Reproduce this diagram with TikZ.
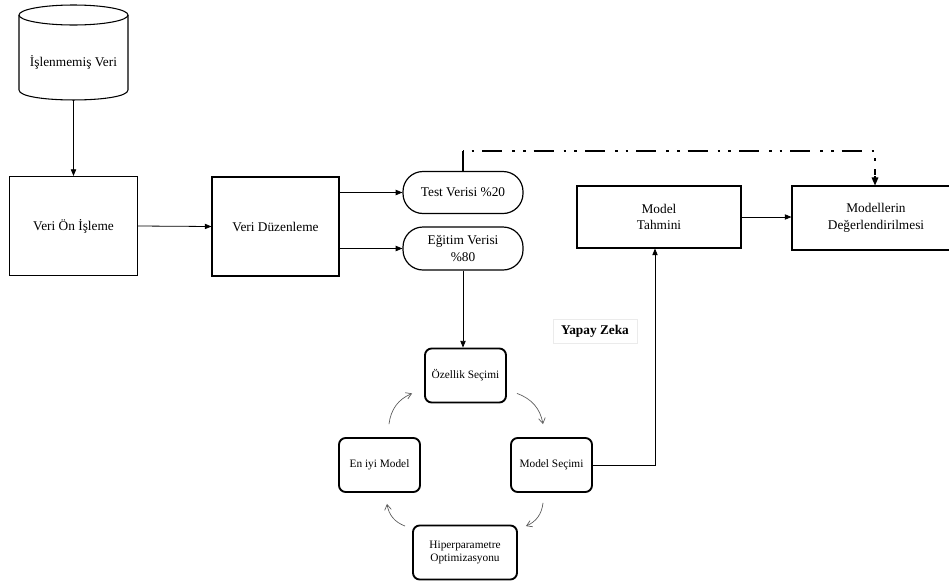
\documentclass[tikz,border=0pt]{standalone}
\usepackage{fontspec}
\setmainfont{Liberation Serif}
\usetikzlibrary{arrows.meta,calc}
\tikzset{
  big/.style={font=\fontsize{10}{12.5}\selectfont, align=center},
  small/.style={font=\fontsize{8.5}{9.5}\selectfont, align=center},
  mainbox/.style={draw, line width=0.8pt, big, inner sep=0pt},
  pillbox/.style={draw, line width=0.9pt, rounded corners=15pt, big, inner sep=0pt, minimum width=90pt},
  cyclebox/.style={draw, line width=1.4pt, rounded corners=5pt, small, inner sep=0pt, minimum width=60.75pt, minimum height=40.5pt},
  conn/.style={line width=0.6pt, -{Triangle[length=5pt,width=4pt]}},
  cyc/.style={black!65, line width=0.5pt, -{Straight Barb[length=4pt,width=5pt]}, bend left=30},
  dashdotdot/.style={line width=2pt, dash pattern=on 15pt off 7.5pt on 2pt off 6pt on 2pt off 6pt, dash phase=24pt}
}
\begin{document}
\begin{tikzpicture}[x=0.75pt,y=-0.75pt]
\clip (0,0) rectangle (949,582);
\fill[white] (0,0) rectangle (949,582);

% cylinder
\node[big, minimum width=81.75pt, minimum height=56.25pt, inner sep=0pt] (raw) at (73.5,62.5) {İşlenmemiş Veri};
\draw[line width=0.8pt] (19,15) -- (19,90) .. controls (19,103.3) and (128,103.3) .. (128,90) -- (128,15);
\draw[line width=0.8pt] (73.5,15) ellipse [x radius=54.5, y radius=10];

\node[mainbox, minimum width=96pt, minimum height=74.25pt] (von) at (73.5,226) {Veri Ön İşleme};
\node[mainbox, minimum width=95.25pt, minimum height=74.25pt] (vd) at (275.5,226.5) {Veri Düzenleme};
\node[pillbox, minimum height=31.5pt] (test) at (463,192.5) {Test Verisi \%20};
\node[pillbox, minimum height=32.25pt] (egitim) at (463,248.5) {Eğitim Verisi\\\%80};
\node[mainbox, minimum width=123pt, minimum height=46.5pt] (mt) at (659,217) {Model\\Tahmini};
\node[mainbox, minimum width=126pt, minimum height=48pt] (md) at (876,218) {Modellerin\\Değerlendirilmesi};

\node[cyclebox] (os) at (465.5,375.5) {Özellik Seçimi};
\node[cyclebox] (ms) at (551.5,465) {Model Seçimi};
\node[cyclebox] (em) at (379.5,465) {En iyi Model};
\node[cyclebox, minimum width=78pt] (ho) at (465,552.5) {Hiperparametre\\Optimizasyonu};

\node[draw=black!8, fill=white, font=\fontsize{10}{12}\selectfont\bfseries, minimum width=63pt, minimum height=18pt, inner sep=0pt] (yz) at (595,331) {Yapay Zeka};

% connectors
\draw[conn] (raw.south) -- (von.north);
\draw[conn] (von.east) -- (vd.west);
\draw[conn] (vd.east |- test.west) -- (test.west);
\draw[conn] (vd.east |- egitim.west) -- (egitim.west);
\draw[conn] (egitim.south) -- (egitim.south |- os.north);
\draw[conn] (ms.east) -| ([xshift=-3pt]mt.south);
\draw[conn] (mt.east) -- (mt.east -| md.west);

\coordinate (corner) at (875,151);
\draw[line width=2pt] (test.north) -- (test.north |- corner);
\draw[dashdotdot] (test.north |- corner) -- (corner) -- ([yshift=8pt]corner |- md.north);
\draw[line width=0.8pt, -{Triangle[length=6pt,width=5pt]}] ([yshift=7pt]corner |- md.north) -- (corner |- md.north);

% cycle arrows
\draw[cyc] ($(os.south east)+(10,-10)$) to ($(ms.north)+(-8.5,-13)$);
\draw[cyc] ($(ms.south)+(-8.5,10)$) to ($(ho.north east)+(8,1.5)$);
\draw[cyc] ($(ho.north west)+(-7,1.5)$) to ($(em.south)+(7.5,11)$);
\draw[cyc] ($(em.north)+(9.5,-13)$) to ($(os.south west)+(-12,-10)$);
\end{tikzpicture}
\end{document}
